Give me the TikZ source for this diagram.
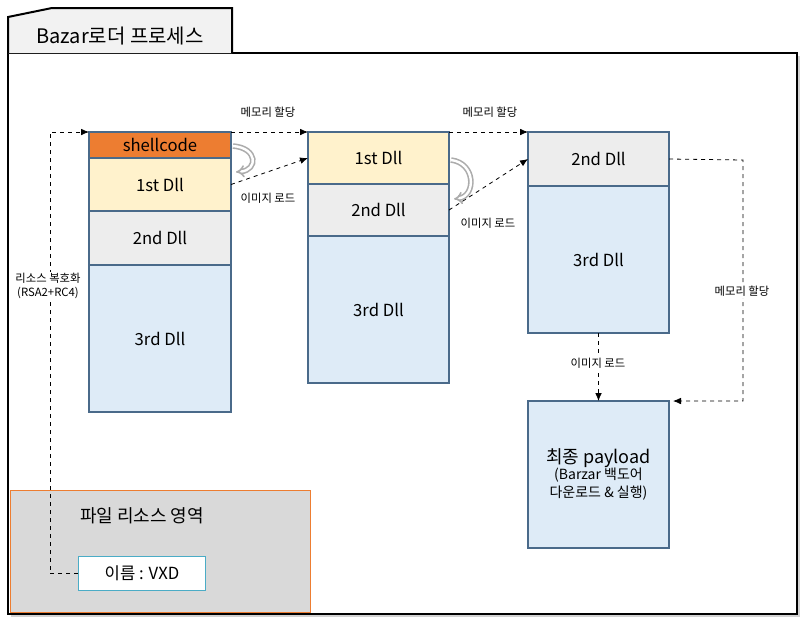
\documentclass[tikz,border=0pt]{standalone}
\usepackage{fontspec}
\setmainfont{Noto Sans CJK KR}
\usetikzlibrary{positioning,arrows.meta}
\definecolor{shellc}{HTML}{ED7D31}
\definecolor{dllone}{HTML}{FFF2CC}
\definecolor{dlltwo}{HTML}{EDEDED}
\definecolor{dllthree}{HTML}{DEEBF7}
\definecolor{blkline}{HTML}{4A6A8A}
\definecolor{resfill}{HTML}{D9D9D9}
\definecolor{namebox}{HTML}{4BACC6}
\tikzset{
  blk/.style={draw=blkline, line width=1.2pt, rectangle, inner sep=0pt, outer sep=0pt,
    font=\fontsize{12.5}{14}\selectfont},
  colone/.style={blk, minimum width=106.5pt},
  coltwo/.style={blk, minimum width=105.75pt},
  lbl/.style={font=\fontsize{8.5}{10.5}\selectfont, inner sep=1pt},
  dasharrow/.style={dashed, line width=0.6pt, -{Latex[length=6pt,width=5pt]}},
  curvy/.style={gray!65, line width=1.2pt, double=white, double distance=1.8pt, -Implies}
}
\begin{document}
\begin{tikzpicture}[x=0.75pt, y=-0.75pt]
  \useasboundingbox (0,0) rectangle (805,626);
  % frame
  \fill[gray!35] (11,56) rectangle (800,617);
  \draw[line width=1.5pt, fill=white] (8,53) rectangle (797,614);
  \draw[line width=1.5pt, fill=black!5] (8,53) -- (8,17) -- (52,8) -- (232,8) -- (232,53);
  \node[font=\fontsize{15}{17}\selectfont] (title) at (120,36) {Bazar로더 프로세스};

  % first image
  \node[colone, fill=shellc, minimum height=19.5pt, anchor=north west] (sc) at (89,132) {shellcode};
  \node[colone, fill=dllone, minimum height=39.75pt, below=0pt of sc] (a1) {1st Dll};
  \node[colone, fill=dlltwo, minimum height=40.5pt, below=0pt of a1] (a2) {2nd Dll};
  \node[colone, fill=dllthree, minimum height=110.25pt, below=0pt of a2] (a3) {3rd Dll};

  % second image
  \node[coltwo, fill=dllone, minimum height=39pt, anchor=north west] (b1) at (308,132) {1st Dll};
  \node[coltwo, fill=dlltwo, minimum height=39pt, below=0pt of b1] (b2) {2nd Dll};
  \node[coltwo, fill=dllthree, minimum height=110.25pt, below=0pt of b2] (b3) {3rd Dll};

  % third image
  \node[coltwo, fill=dlltwo, minimum height=40.5pt, anchor=north west] (c2) at (528,132) {2nd Dll};
  \node[coltwo, fill=dllthree, minimum height=110.25pt, below=0pt of c2] (c3) {3rd Dll};

  % final payload
  \node[coltwo, fill=dllthree, minimum height=110.25pt, anchor=north west, align=center] (fin) at (528,401)
    {\fontsize{13.5}{16}\selectfont 최종 payload\\[-2pt]
     \fontsize{10.5}{12.5}\selectfont (Barzar 백도어\\\fontsize{10.5}{12.5}\selectfont 다운로드 \& 실행)};

  % resource area
  \node[draw=shellc, line width=1pt, fill=resfill, minimum width=225pt, minimum height=91.5pt,
    anchor=north west, inner sep=0pt] (res) at (10,490) {};
  \node[font=\fontsize{13.5}{15}\selectfont] (restxt) at (142,516) {파일 리소스 영역};
  \node[draw=namebox, line width=0.8pt, fill=white, minimum width=95.25pt, minimum height=25.5pt,
    anchor=north west, inner sep=0pt, font=\fontsize{12.5}{14}\selectfont] (vxd) at (78,556) {이름 : VXD};

  \coordinate (lt) at (50,132);
  \coordinate (rt) at (743,160);

  \begin{scope}[dasharrow]
    \draw (vxd.west) -| (lt) -- (sc.north west);
    \draw (sc.north east) -- (b1.north west);
    \draw (a1.east) -- (b1.west);
    \draw (b1.north east) -- (c2.north west);
    \draw (b2.east) -- (c2.west);
    \draw (c2.east) -- (rt) |- ([xshift=3pt]fin.north east);
    \draw (c3.south) -- (fin.north);
  \end{scope}

  \draw[curvy] (233,146) .. controls (258,148) and (258,170) .. (236,172);
  \draw[curvy] (451,160) .. controls (476,163) and (476,196) .. (454,199);

  % labels
  \node[lbl, fill=white, align=center] (dec) at (48,286) {리소스 복호화\\(RSA2+RC4)};
  \node[lbl] (mem1) at (268,112) {메모리 할당};
  \node[lbl] (img1) at (268,198) {이미지 로드};
  \node[lbl] (mem2) at (490,112) {메모리 할당};
  \node[lbl] (img2) at (488,223) {이미지 로드};
  \node[lbl, fill=white] (mem3) at (742,291) {메모리 할당};
  \node[lbl, fill=white] (img3) at (598,363) {이미지 로드};
\end{tikzpicture}
\end{document}
